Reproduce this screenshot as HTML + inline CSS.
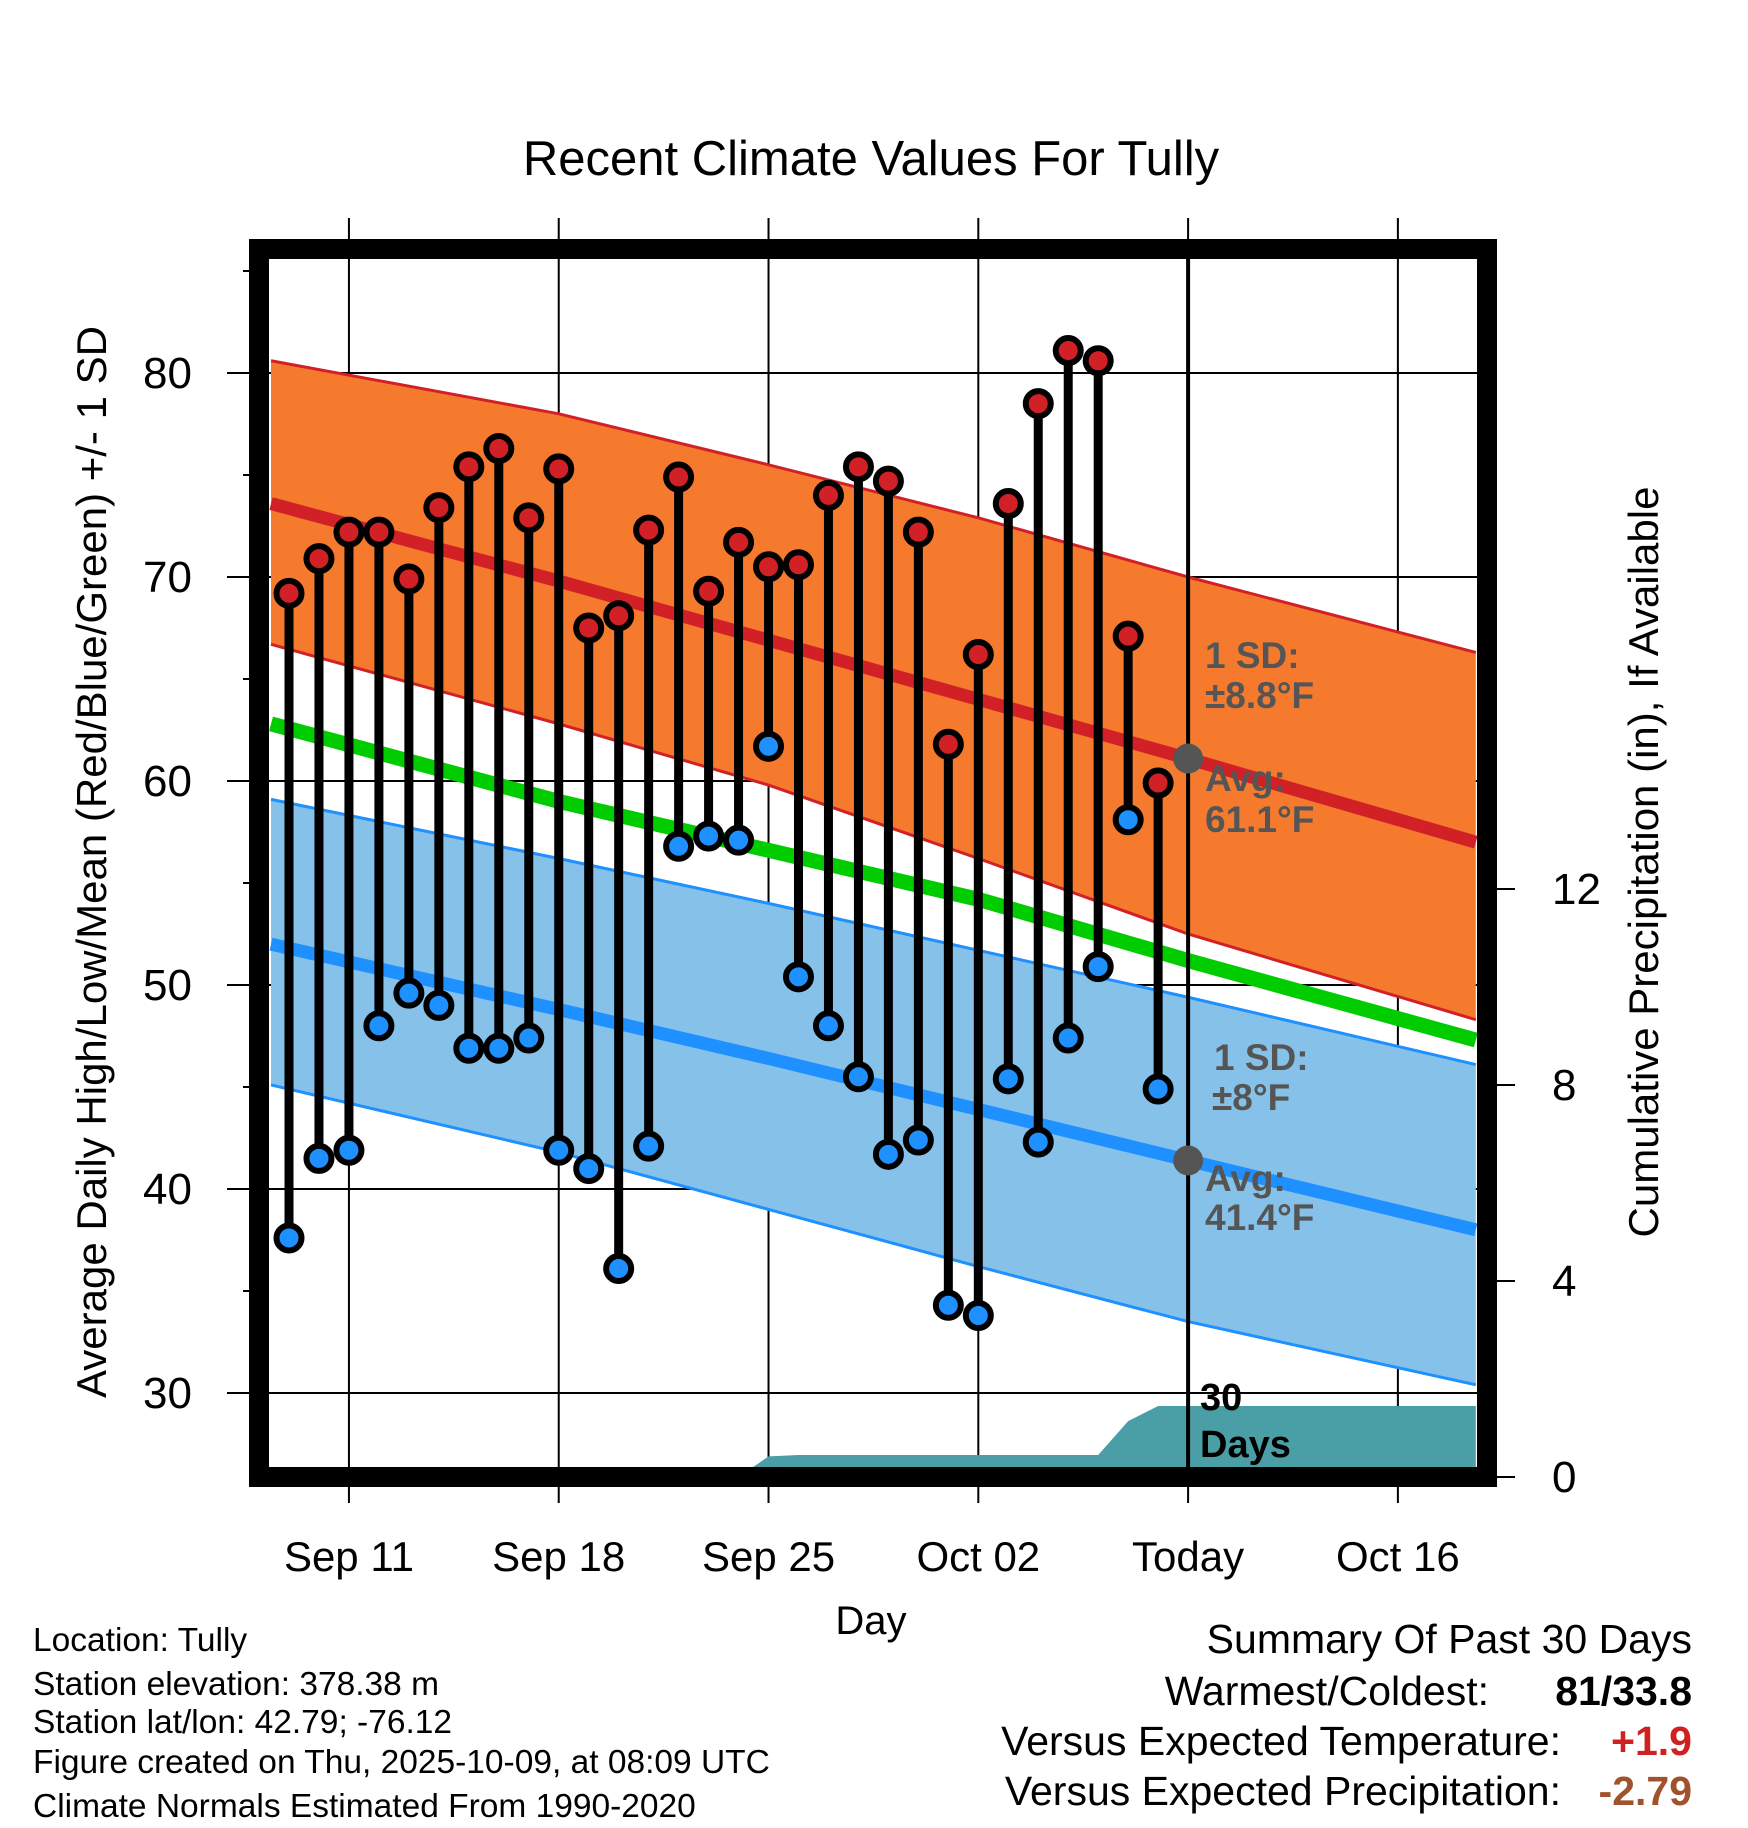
<!DOCTYPE html>
<html><head><meta charset="utf-8"><style>
html,body{margin:0;padding:0;background:#fff;}
svg{display:block;font-family:"Liberation Sans",Arial,sans-serif;}
</style></head><body>
<svg id="chart" width="1748" height="1828" viewBox="0 0 1748 1828">
<defs><clipPath id="plotclip"><rect x="269" y="259" width="1208" height="1208"/></clipPath></defs>
<text x="871" y="175" font-size="49" text-anchor="middle">Recent Climate Values For Tully</text>
<g id="grid"></g>
<g id="plot" clip-path="url(#plotclip)"></g>
<g id="overlay"></g>
<rect x="259" y="249" width="1228" height="1228" fill="none" stroke="#000" stroke-width="20"/>
<g id="axes"></g>
<text transform="translate(106,862) rotate(-90)" font-size="42" text-anchor="middle">Average Daily High/Low/Mean (Red/Blue/Green) +/- 1 SD</text>
<text transform="translate(1658,862) rotate(-90)" font-size="42" text-anchor="middle">Cumulative Precipitation (in), If Available</text>
<text x="871" y="1634" font-size="40" text-anchor="middle">Day</text>
<g font-size="33.5">
<text x="33" y="1651">Location: Tully</text>
<text x="33" y="1695">Station elevation: 378.38 m</text>
<text x="33" y="1733">Station lat/lon: 42.79; -76.12</text>
<text x="33" y="1773">Figure created on Thu, 2025-10-09, at 08:09 UTC</text>
<text x="33" y="1817">Climate Normals Estimated From 1990-2020</text>
</g>
<g font-size="41" text-anchor="end">
<text x="1692" y="1653">Summary Of Past 30 Days</text>
<text x="1489" y="1705">Warmest/Coldest:</text>
<text x="1692" y="1705" font-weight="bold">81/33.8</text>
<text x="1561" y="1755">Versus Expected Temperature:</text>
<text x="1692" y="1755" font-weight="bold" fill="#d02020">+1.9</text>
<text x="1561" y="1805">Versus Expected Precipitation:</text>
<text x="1692" y="1805" font-weight="bold" fill="#a0522d">-2.79</text>
</g>
</svg>
<script>
// Normals (days from Sep 9)
const normDays = [-0.6, 9, 16, 23, 30, 39.6];
const redTop = [80.6, 78.0, 75.5, 72.9, 70.0, 66.3];
const redAvg = [73.6, 69.8, 66.9, 64.0, 61.1, 57.0];
const redLow = [66.7, 62.8, 59.8, 56.2, 52.5, 48.3];
const meanNorm = [62.8, 59.0, 56.6, 54.2, 51.2, 47.3];
const blueTop = [59.1, 56.2, 54.0, 51.7, 49.4, 46.1];
const blueAvg = [52.0, 48.8, 46.4, 43.9, 41.4, 38.0];
const blueLow = [45.1, 41.8, 39.0, 36.2, 33.5, 30.4];
// Observed daily highs/lows, Sep 9 .. Oct 8
const highs = [69.2,70.9,72.2,72.2,69.9,73.4,75.4,76.3,72.9,75.3,67.5,68.1,72.3,74.9,69.3,71.7,70.5,70.6,74.0,75.4,74.7,72.2,61.8,66.2,73.6,78.5,81.1,80.6,67.1,59.9];
const lows = [37.6,41.5,41.9,48.0,49.6,49.0,46.9,46.9,47.4,41.9,41.0,36.1,42.1,56.8,57.3,57.1,61.7,50.4,48.0,45.5,41.7,42.4,34.3,33.8,45.4,42.3,47.4,50.9,58.1,44.9];
const precip = [0,0,0,0,0,0,0,0,0,0,0,0,0,0,0,0,0.42,0.45,0.45,0.45,0.45,0.45,0.45,0.45,0.45,0.45,0.45,0.45,1.14,1.45];
const yTicks = [30,40,50,60,70,80];
const y2Ticks = [0,4,8,12];
const xTickDays = [2,9,16,23,30,37];
const xTickLabels = ["Sep 11","Sep 18","Sep 25","Oct 02","Today","Oct 16"];
const todayDay = 30;

const NS="http://www.w3.org/2000/svg";
const X = d => 289 + 29.97*d;
const Y = v => 2005 - 20.4*v;
const YP = p => 1477 - 49*p;
function mk(tag, attrs, parent){const e=document.createElementNS(NS,tag);for(const k in attrs)e.setAttribute(k,attrs[k]);parent.appendChild(e);return e;}
const plot=document.getElementById('plot'),grid=document.getElementById('grid'),axes=document.getElementById('axes'),ov=document.getElementById('overlay');
const pts = arr => normDays.map((d,i)=>X(d)+','+Y(arr[i]));
function band(top,bot,fill,name){
  const p=pts(top).concat(pts(bot).reverse()).join(' ');
  const e=mk('polygon',{points:p,fill:fill},plot);
  
  
}
function line(arr,color,w,name){
  const e=mk('polyline',{points:pts(arr).join(' '),fill:'none',stroke:color,'stroke-width':w},plot);
  
  
}
band(redTop,redLow,'#f57a2e','high-sd-band');
band(blueTop,blueLow,'#85c1e9','low-sd-band');
line(redTop,'#d22027',3,'high-upper-line');
line(redLow,'#d22027',3,'high-lower-line');
line(blueTop,'#1e90ff',3,'low-upper-line');
line(blueLow,'#1e90ff',3,'low-lower-line');
line(redAvg,'#d22027',13,'high-avg-line');
line(blueAvg,'#1e90ff',13,'low-avg-line');
line(meanNorm,'#00cc00',15,'mean-normal-line');
// precip area
{
  let p=[X(-0.6)+','+YP(0)];
  precip.forEach((v,i)=>p.push(X(i)+','+YP(v)));
  p.push(X(39.6)+','+YP(precip[precip.length-1]));
  p.push(X(39.6)+','+YP(0));
  const e=mk('polygon',{points:p.join(' '),fill:'#4a9ea5'},plot);
  
  
}
// grid
yTicks.forEach(v=>{
  const e=mk('line',{x1:227,x2:1477,y1:Y(v),y2:Y(v),stroke:'#000','stroke-width':2},grid);
  
  
  const t=mk('text',{x:192,y:Y(v)+15,'font-size':44,'text-anchor':'end'},axes);
  t.textContent=v;
  
  
});
[35,45,55,65,75,85].forEach(v=>{
  const e=mk('line',{x1:243,x2:255,y1:Y(v),y2:Y(v),stroke:'#000','stroke-width':2},grid);
  
  
});
xTickDays.forEach((d,i)=>{
  const e=mk('line',{x1:X(d),x2:X(d),y1:218,y2:1503,stroke:'#000','stroke-width':2},grid);
  
  
  const t=mk('text',{x:X(d),y:1571,'font-size':42,'text-anchor':'middle'},axes);
  t.textContent=xTickLabels[i];
  
  
});
y2Ticks.forEach(p=>{
  const e=mk('line',{x1:1487,x2:1515,y1:YP(p),y2:YP(p),stroke:'#000','stroke-width':2},axes);
  
  
  const t=mk('text',{x:1552,y:YP(p)+15,'font-size':44,'text-anchor':'start'},axes);
  t.textContent=p;
  
  
});
// today line
{
  const e=mk('line',{x1:X(todayDay),x2:X(todayDay),y1:249,y2:1477,stroke:'#000','stroke-width':4},ov);
  
  
}
// stems and dots
highs.forEach((h,i)=>{
  const e=mk('line',{x1:X(i),x2:X(i),y1:Y(h),y2:Y(lows[i]),stroke:'#000','stroke-width':9},ov);
  
  
});
highs.forEach((h,i)=>{
  const c=mk('circle',{cx:X(i),cy:Y(h),r:12.5,fill:'#d22027',stroke:'#000','stroke-width':6},ov);
  
  
  const c2=mk('circle',{cx:X(i),cy:Y(lows[i]),r:12.5,fill:'#1e90ff',stroke:'#000','stroke-width':6},ov);
  
  
});
// today avg dots
[[redAvg[4],'today-high-avg-dot'],[blueAvg[4],'today-low-avg-dot']].forEach(a=>{
  const c=mk('circle',{cx:X(todayDay),cy:Y(a[0]),r:15,fill:'#555'},ov);
  
  
});
// annotations
const ann=[["1 SD:",1205,668],["±8.8°F",1205,708],["Avg:",1205,791],["61.1°F",1205,832],["1 SD:",1214,1070],["±8°F",1212,1110],["Avg:",1205,1191],["41.4°F",1205,1230]];
ann.forEach(a=>{
  const t=mk('text',{x:a[1],y:a[2],'font-size':37,'font-weight':'bold',fill:'#555'},ov);
  t.textContent=a[0];
  
  
});
[["30",1200,1410],["Days",1200,1457]].forEach(a=>{
  const t=mk('text',{x:a[1],y:a[2],'font-size':38,'font-weight':'bold',fill:'#000'},ov);
  t.textContent=a[0];
  
  
});
</script>
</body></html>
